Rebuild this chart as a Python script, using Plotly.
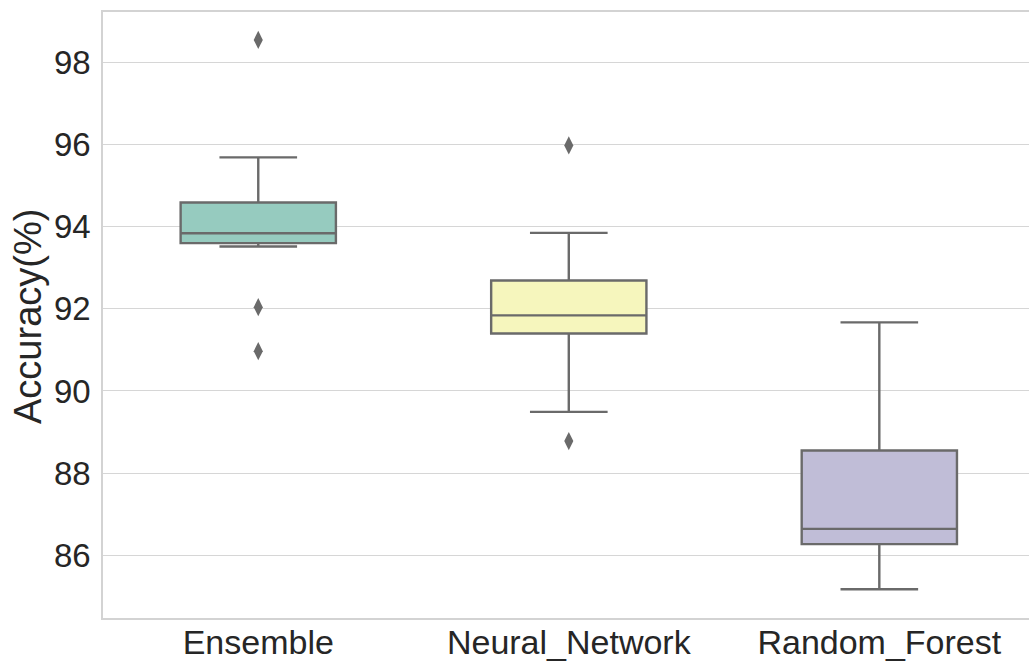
import plotly.graph_objects as go

categories = ["Ensemble", "Neural_Network", "Random_Forest"]
q1 = [93.60, 91.40, 86.27]
median = [93.84, 91.84, 86.64]
q3 = [94.59, 92.69, 88.55]
lower_whisker = [93.52, 89.49, 85.17]
upper_whisker = [95.69, 93.85, 91.67]
outlier_cat = ["Ensemble", "Ensemble", "Ensemble", "Neural_Network", "Neural_Network"]
outlier_val = [98.55, 92.04, 90.97, 95.98, 88.78]
fill_colors = ["#96cbbf", "#f6f6bd", "#c0bdd7"]
y_ticks = [86, 88, 90, 92, 94, 96, 98]

line_gray = "#6a6a6a"
font_family = "Liberation Sans, Arial, sans-serif"

fig = go.Figure()
for i, cat in enumerate(categories):
    fig.add_trace(go.Box(
        x=[cat], q1=[q1[i]], median=[median[i]], q3=[q3[i]],
        lowerfence=[lower_whisker[i]], upperfence=[upper_whisker[i]],
        fillcolor=fill_colors[i], line=dict(color=line_gray, width=2.4),
        width=0.5, whiskerwidth=0.5, boxpoints=False, showlegend=False,
        hoverinfo="skip",
    ))

fig.add_trace(go.Scatter(
    x=outlier_cat, y=outlier_val, mode="markers",
    marker=dict(symbol="diamond-tall", size=13, color=line_gray,
                line=dict(width=0)),
    showlegend=False, hoverinfo="skip",
))

fig.update_layout(
    width=1029, height=663,
    margin=dict(l=103, r=0, t=12, b=45),
    paper_bgcolor="white", plot_bgcolor="white",
    font=dict(family=font_family, color="#262626", size=33),
)
fig.update_xaxes(
    type="category", categoryorder="array", categoryarray=categories,
    range=[-0.5, 2.482], showgrid=False, showline=True, mirror=True,
    linecolor="#d3d3d3", linewidth=1.5, ticks="", zeroline=False,
    automargin=False, ticklabelstandoff=-7,
    tickfont=dict(size=34, family=font_family, color="#262626"),
)
fig.update_yaxes(
    range=[84.47, 99.23], tickvals=y_ticks, ticktext=[str(v) for v in y_ticks],
    showgrid=True, gridcolor="#d6d6d6", gridwidth=1.2,
    showline=True, linecolor="#d3d3d3", linewidth=1.5, mirror=False,
    ticks="", zeroline=False, ticklabelstandoff=4, automargin=False,
    tickfont=dict(size=33, family=font_family, color="#262626"),
)
fig.add_annotation(
    text="Accuracy(%)", xref="paper", yref="paper",
    x=(28 - 103) / 926, y=(618 - 317) / 606, xanchor="center", yanchor="middle",
    textangle=-90, showarrow=False,
    font=dict(size=38, family=font_family, color="#262626"),
)

fig.write_html("out.html")
